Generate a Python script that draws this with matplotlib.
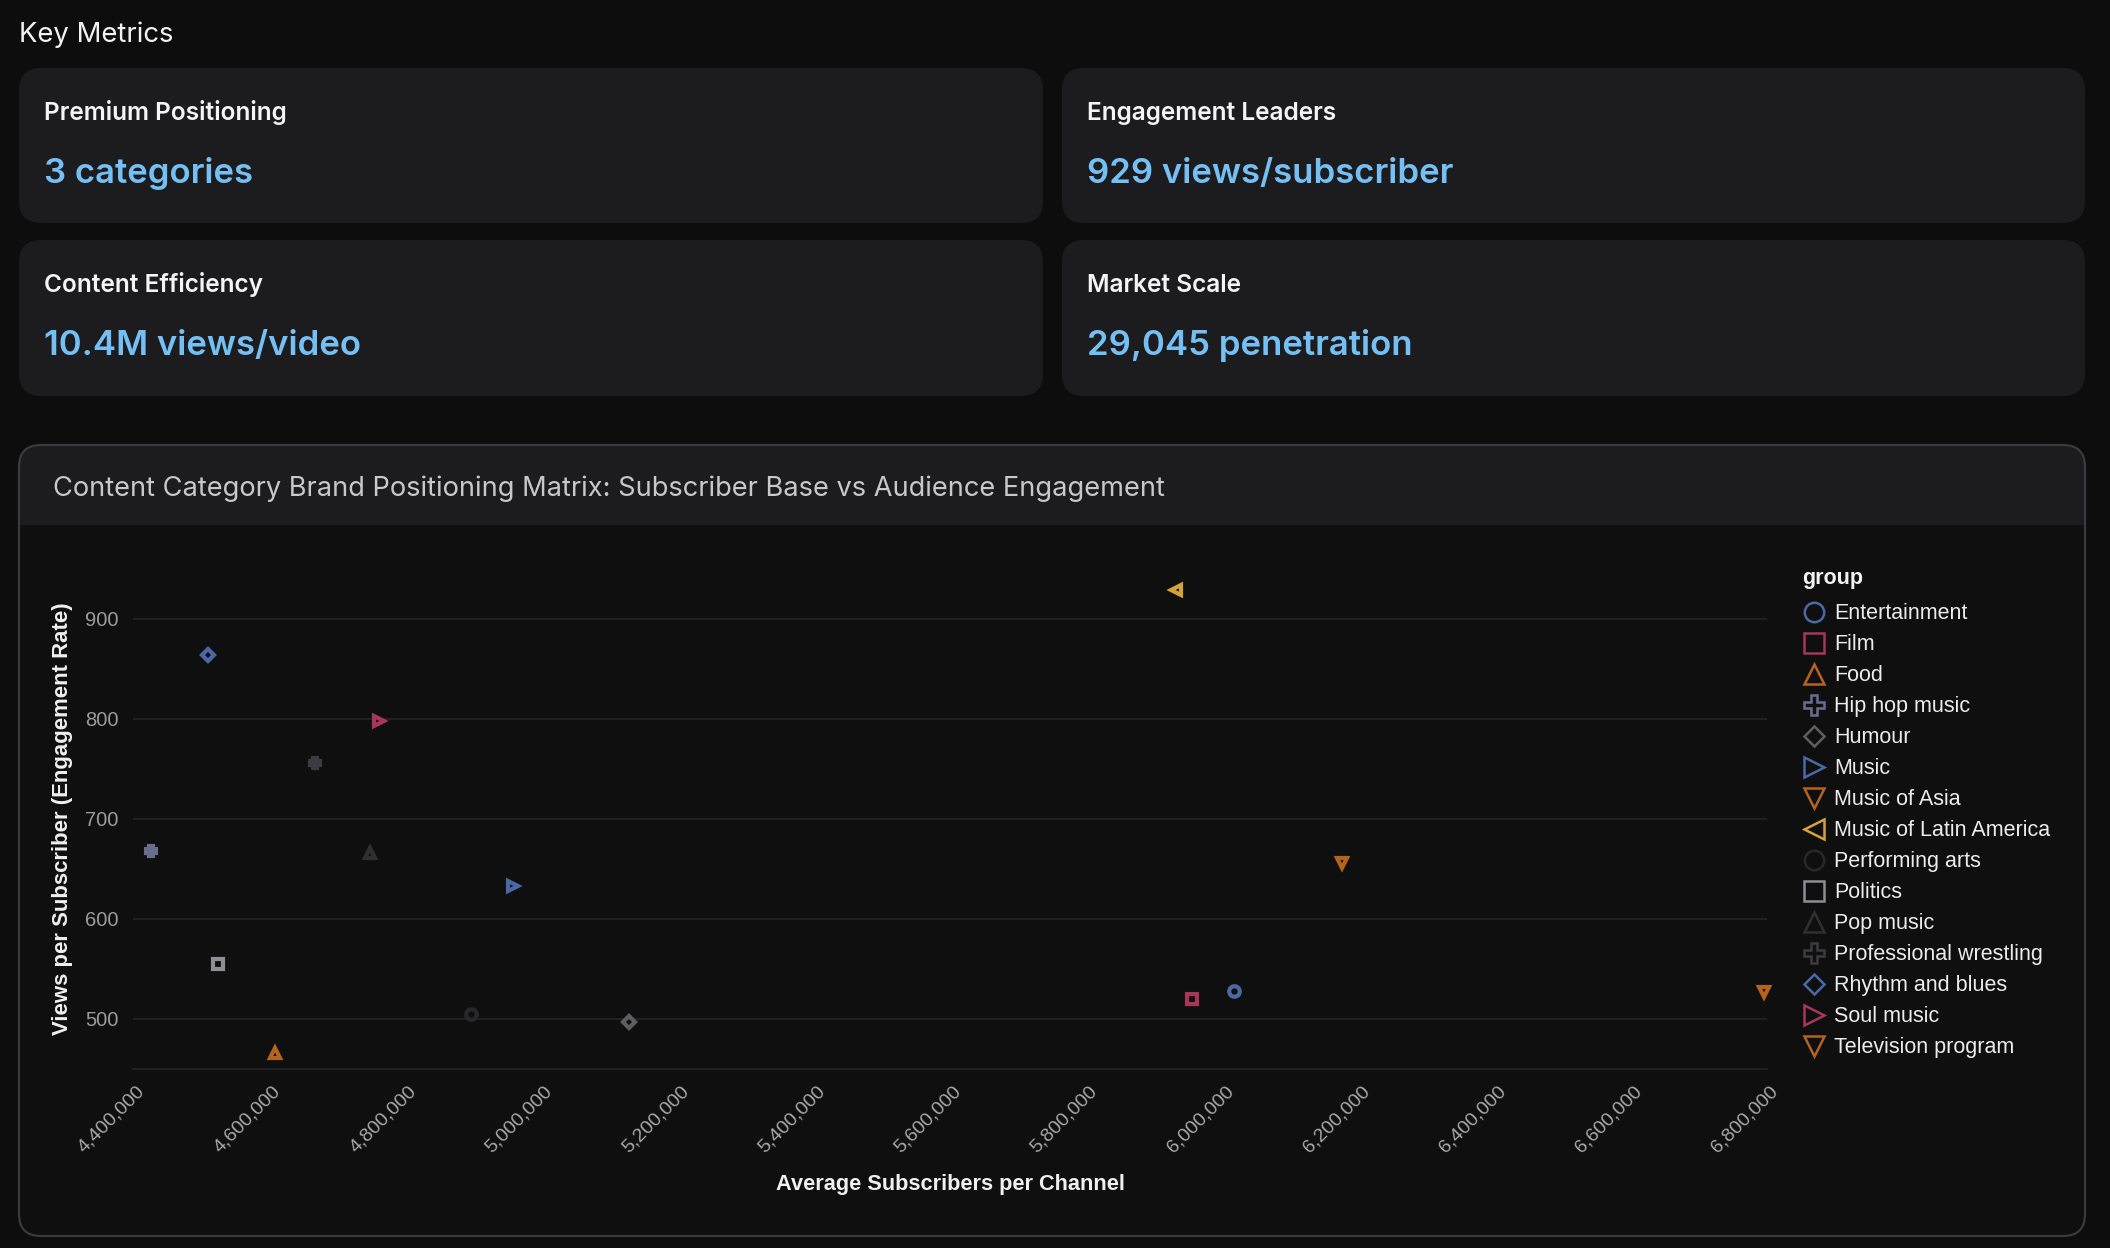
import matplotlib
matplotlib.use("Agg")
import matplotlib.pyplot as plt
from matplotlib.patches import FancyBboxPatch, Rectangle
from matplotlib.lines import Line2D
from matplotlib.markers import MarkerStyle
from matplotlib.transforms import IdentityTransform, ScaledTranslation
from matplotlib.ticker import FuncFormatter

W, H = 2110, 1248
DPI = 100

# ---------------- data ----------------
groups = ["Entertainment", "Film", "Food", "Hip hop music", "Humour", "Music",
          "Music of Asia", "Music of Latin America", "Performing arts", "Politics",
          "Pop music", "Professional wrestling", "Rhythm and blues", "Soul music",
          "Television program"]
avg_subscribers = [6017800, 5956200, 4609200, 4427000, 5129100, 4958200,
                   6175800, 5932600, 4896500, 4526000,
                   4749100, 4668200, 4510750, 4762700, 6796200]
views_per_subscriber = [528, 520, 466, 668, 497, 633,
                        656, 929, 505, 555,
                        666, 756, 864, 798, 527]
group_colors = ["#4a69a6", "#a8365a", "#b5641f", "#6b6d8f", "#5e5e60", "#4a69a6",
                "#b5641f", "#d4a23a", "#28282a", "#8e8e93",
                "#303032", "#3c3c40", "#4a69a6", "#a8365a", "#b5641f"]
group_markers = ["o", "s", "^", "P", "D", ">", "v", "<", "o", "s", "^", "P", "D", ">", "v"]

x_ticks = [4400000, 4600000, 4800000, 5000000, 5200000, 5400000, 5600000,
           5800000, 6000000, 6200000, 6400000, 6600000, 6800000]
y_ticks = [500, 600, 700, 800, 900]

metric_titles = ["Premium Positioning", "Engagement Leaders", "Content Efficiency", "Market Scale"]
metric_values = ["3 categories", "929 views/subscriber", "10.4M views/video", "29,045 penetration"]

chart_title = "Content Category Brand Positioning Matrix: Subscriber Base vs Audience Engagement"
x_label = "Average Subscribers per Channel"
y_label = "Views per Subscriber (Engagement Rate)"
legend_title = "group"

# ---------------- style ----------------
BG = "#0d0d0e"
CARD = "#1c1c1e"
PANEL_BODY = "#0f0f10"
BORDER = "#3a3a3d"
GRID = "#222224"
VALUE_BLUE = "#74c0f5"
UI_FONT = ["Inter", "DejaVu Sans"]
AX_FONT = ["Liberation Sans", "DejaVu Sans"]

fig = plt.figure(figsize=(W / DPI, H / DPI), dpi=DPI, facecolor=BG)
ID = IdentityTransform()


def rrect(x0, y0, x1, y1, r, fc, ec="none", lw=0.0, z=-5):
    p = FancyBboxPatch((x0, H - y1), x1 - x0, y1 - y0,
                       boxstyle=f"round,pad=0,rounding_size={r}",
                       transform=ID, fc=fc, ec=ec, lw=lw, zorder=z)
    fig.add_artist(p)


def ftext(x, y, s, **kw):
    return fig.text(x, H - y, s, transform=ID, **kw)


# ---------------- Key metrics ----------------
ftext(19, 42, "Key Metrics", fontsize=19.8, color="#f2f2f2", family=UI_FONT, va="baseline")

card_cols = [(19, 1043), (1062, 2085)]
card_rows = [(68, 223), (240, 396)]
title_base = [120, 292]
value_base = [183, 355]
for i in range(4):
    r, c = divmod(i, 2)
    x0, x1 = card_cols[c]
    y0, y1 = card_rows[r]
    rrect(x0, y0, x1, y1, 22, CARD)
    ftext(x0 + 25, title_base[r], metric_titles[i], fontsize=17.6, fontweight="semibold",
          color="#f4f4f4", family=UI_FONT, va="baseline")
    ftext(x0 + 25, value_base[r], metric_values[i], fontsize=25, fontweight="semibold",
          color=VALUE_BLUE, family=UI_FONT, va="baseline")

# ---------------- chart panel ----------------
PX0, PY0, PX1, PY1 = 19, 445, 2085, 1236
rrect(PX0, PY0, PX1, PY1, 22, PANEL_BODY)
rrect(PX0, PY0, PX1, 560, 22, CARD, z=-4)
fig.add_artist(Rectangle((PX0, H - 560), PX1 - PX0, 560 - 525, transform=ID,
                         fc=PANEL_BODY, ec="none", zorder=-3))
rrect(PX0, PY0, PX1, PY1, 22, "none", ec=BORDER, lw=1.6, z=-2)
ftext(53, 495.5, chart_title, fontsize=19.6, color="#c8c8cc", family=UI_FONT, va="baseline")

# ---------------- axes ----------------
AX0, AX1 = 132.5, 1766.5
AY_TOP, AY_BOT = 568.7, 1068.7
ax = fig.add_axes([AX0 / W, (H - AY_BOT) / H, (AX1 - AX0) / W, (AY_BOT - AY_TOP) / H])
ax.set_facecolor("none")
ax.set_xlim(4400000, 6800000)
ax.set_ylim(450, 950)

for gx, gy, c, m in zip(avg_subscribers, views_per_subscriber, group_colors, group_markers):
    ms = 6.0 if m == "D" else 7.6
    ax.plot([gx], [gy], linestyle="none",
            marker=MarkerStyle(m, joinstyle="miter"),
            ms=ms, mew=3.0, mfc="none", mec=c, zorder=5, clip_on=False)

ax.set_xticks(x_ticks)
ax.set_yticks(y_ticks)
ax.xaxis.set_major_formatter(FuncFormatter(lambda v, p: f"{int(round(v)):,}"))
ax.yaxis.set_major_formatter(FuncFormatter(lambda v, p: f"{int(round(v))}"))
ax.grid(axis="y", color=GRID, lw=1.3)
ax.set_axisbelow(True)
for s in ["top", "right", "left"]:
    ax.spines[s].set_visible(False)
ax.spines["bottom"].set_color(GRID)
ax.spines["bottom"].set_linewidth(1.3)
ax.tick_params(axis="x", length=0, pad=10, labelsize=14, labelcolor="#a8a8a8")
ax.tick_params(axis="y", length=0, pad=10, labelsize=14.5, labelcolor="#9c9c9c")
off = ScaledTranslation(3 / DPI, 0, fig.dpi_scale_trans)
for lab in ax.get_xticklabels():
    lab.set_rotation(45)
    lab.set_ha("right")
    lab.set_va("top")
    lab.set_rotation_mode("anchor")
    lab.set_family(AX_FONT)
    lab.set_transform(lab.get_transform() + off)
for lab in ax.get_yticklabels():
    lab.set_family(AX_FONT)
    lab.set_va("center_baseline")

ftext(950, 1190, x_label, fontsize=15.7, fontweight="bold", color="#f0f0f0",
      family=AX_FONT, ha="center", va="baseline")
ftext(63, 818.7, y_label, fontsize=15.9, fontweight="bold", color="#f0f0f0",
      family=AX_FONT, ha="center", va="center", rotation=90)

# ---------------- legend ----------------
ftext(1802.5, 584.3, legend_title, fontsize=15.5, fontweight="bold", color="#f2f2f2",
      family=AX_FONT, va="baseline")
LEG_X_MARK, LEG_X_TEXT, LEG_Y0, LEG_STEP = 1814, 1834, 611.5, 31.0
for i, (g, c, m) in enumerate(zip(groups, group_colors, group_markers)):
    yy = LEG_Y0 + i * LEG_STEP
    ms = 9.9 if m == "D" else 14
    fig.add_artist(Line2D([LEG_X_MARK], [H - yy], transform=ID, linestyle="none",
                          marker=MarkerStyle(m, joinstyle="miter"), ms=ms, mew=1.8,
                          mfc="none", mec=c, zorder=6))
    ftext(LEG_X_TEXT, yy + 7.2, g, fontsize=15.5, color="#ececec", family=AX_FONT,
          va="baseline")

fig.savefig("out.png", dpi=DPI, facecolor=BG)
